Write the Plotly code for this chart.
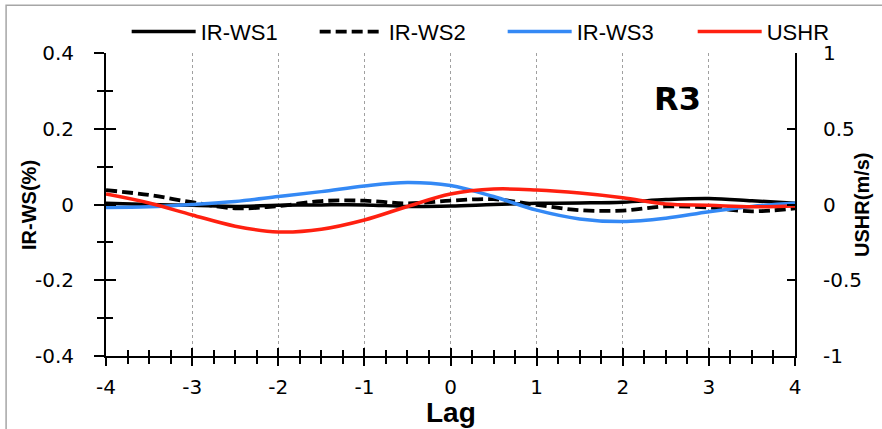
import plotly.graph_objects as go

# Lag axis values
lag = [-4, -3.5, -3, -2.5, -2, -1.5, -1, -0.5, 0, 0.5, 1, 1.5, 2, 2.5, 3, 3.5, 4]

# Cross-correlation series (left axis, %)
ir_ws1 = [0.003, 0.000, -0.002, -0.005, -0.002, -0.001, -0.001, -0.005, -0.004, 0.000,
          0.003, 0.004, 0.006, 0.013, 0.016, 0.010, 0.003]
ir_ws2 = [0.038, 0.025, 0.006, -0.010, -0.004, 0.009, 0.010, 0.003, 0.010, 0.014,
          -0.001, -0.015, -0.016, -0.005, -0.008, -0.018, -0.010]
ir_ws3 = [-0.008, -0.006, 0.000, 0.008, 0.021, 0.034, 0.049, 0.058, 0.050, 0.021,
          -0.015, -0.038, -0.045, -0.036, -0.019, -0.005, 0.003]

# USHR series (right axis, m/s)
ushr = [0.069, 0.010, -0.069, -0.143, -0.181, -0.163, -0.102, -0.013, 0.069, 0.102,
        0.096, 0.076, 0.045, 0.003, -0.005, -0.015, -0.010]

x_ticks = [-4, -3, -2, -1, 0, 1, 2, 3, 4]
left_ticks = [-0.4, -0.2, 0, 0.2, 0.4]
left_labels = ["-0.4", "-0.2", "0", "0.2", "0.4"]
right_ticks = [-1, -0.5, 0, 0.5, 1]
right_labels = ["-1", "-0.5", "0", "0.5", "1"]

BLUE = "#3489F5"
RED = "#FF2010"
TICK_FONT = dict(family="DejaVu Sans", size=20, color="black")
LEGEND_FONT = dict(family="Liberation Sans", size=22, color="black")

fig = go.Figure()
fig.add_trace(go.Scatter(x=lag, y=ir_ws1, name="IR-WS1", mode="lines",
                         line=dict(color="black", width=3.5, shape="spline", smoothing=1.0)))
fig.add_trace(go.Scatter(x=lag, y=ir_ws2, name="IR-WS2", mode="lines",
                         line=dict(color="black", width=3.8, dash="11px,5px",
                                   shape="spline", smoothing=1.0)))
fig.add_trace(go.Scatter(x=lag, y=ir_ws3, name="IR-WS3", mode="lines",
                         line=dict(color=BLUE, width=3.5, shape="spline", smoothing=1.0)))
fig.add_trace(go.Scatter(x=lag, y=ushr, name="USHR", mode="lines", yaxis="y2",
                         legend="legend2",
                         line=dict(color=RED, width=3.5, shape="spline", smoothing=1.0)))

fig.update_layout(
    width=882, height=429,
    margin=dict(l=106, r=87, t=53, b=73, autoexpand=False),
    paper_bgcolor="white", plot_bgcolor="white",
    showlegend=True,
    legend=dict(orientation="h", x=0.03, y=1.07, xanchor="left", yanchor="middle",
                font=LEGEND_FONT, itemwidth=64, entrywidth=109,
                bgcolor="rgba(0,0,0,0)", traceorder="normal"),
    legend2=dict(orientation="h", x=0.8515, y=1.07, xanchor="left", yanchor="middle",
                 font=LEGEND_FONT, itemwidth=64, bgcolor="rgba(0,0,0,0)"),
    xaxis=dict(range=[-4, 4], tickvals=x_ticks, ticktext=[str(v) for v in x_ticks],
               ticks="outside", ticklen=8, tickwidth=2, tickcolor="black",
               minor=dict(dtick=0.25, ticks="outside", ticklen=6, tickwidth=1.5,
                          tickcolor="black", showgrid=False),
               showline=True, linecolor="black", linewidth=2,
               showgrid=True, gridcolor="#A0A0A0", gridwidth=1, griddash="dot",
               zeroline=False, tickfont=TICK_FONT, ticklabelstandoff=4),
    xaxis2=dict(range=[-4, 4], overlaying="x", side="bottom", anchor="y",
                tickvals=x_ticks, ticks="inside", ticklen=8, tickwidth=2, tickcolor="black",
                minor=dict(dtick=0.25, ticks="inside", ticklen=6, tickwidth=1.5,
                           tickcolor="black"),
                showticklabels=False, showline=False, showgrid=False, zeroline=False),
    yaxis=dict(range=[-0.4, 0.4], tickvals=left_ticks, ticktext=left_labels,
               ticks="outside", ticklen=10, tickwidth=2, tickcolor="black",
               minor=dict(dtick=0.1, ticks="outside", ticklen=7, tickwidth=1.5,
                          tickcolor="black", showgrid=False),
               showline=True, linecolor="black", linewidth=2,
               showgrid=False, zeroline=False, tickfont=TICK_FONT, ticklabelstandoff=16),
    yaxis3=dict(range=[-0.4, 0.4], overlaying="y", side="left", anchor="x",
                tickvals=left_ticks, ticks="inside", ticklen=10, tickwidth=2,
                tickcolor="black",
                minor=dict(dtick=0.1, ticks="inside", ticklen=7, tickwidth=1.5,
                           tickcolor="black"),
                showticklabels=False, showline=False, showgrid=False, zeroline=False),
    yaxis2=dict(range=[-1, 1], overlaying="y", side="right", anchor="x",
                tickvals=right_ticks, ticktext=right_labels,
                ticks="inside", ticklen=8, tickwidth=2, tickcolor="black",
                showline=True, linecolor="black", linewidth=2,
                showgrid=False, zeroline=False, tickfont=TICK_FONT, ticklabelstandoff=22),
)

# Dummy trace so the overlay axes are drawn
fig.add_trace(go.Scatter(x=[None], y=[None], xaxis="x2", yaxis="y3",
                         showlegend=False, hoverinfo="skip"))

# Axis titles and panel label
fig.add_annotation(text="<b>Lag</b>", x=0.5, y=-0.185, xref="paper", yref="paper",
                   xanchor="center", yanchor="middle", showarrow=False,
                   font=dict(family="Liberation Sans", size=28, color="black"))
fig.add_annotation(text="<b>IR-WS(%)</b>", x=-0.112, y=0.498, xref="paper", yref="paper",
                   xanchor="center", yanchor="middle", textangle=-90, showarrow=False,
                   font=dict(family="Liberation Sans", size=20, color="black"))
fig.add_annotation(text="<b>USHR(m/s)</b>", x=1.097, y=0.498, xref="paper", yref="paper",
                   xanchor="center", yanchor="middle", textangle=-90, showarrow=False,
                   font=dict(family="Liberation Sans", size=20, color="black"))
fig.add_annotation(text="<b>R3</b>", x=0.830, y=0.848, xref="paper", yref="paper",
                   xanchor="center", yanchor="middle", showarrow=False,
                   font=dict(family="DejaVu Sans", size=32, color="black"))

# Outer frame around the chart
fig.add_shape(type="rect", xref="paper", yref="paper",
              x0=-0.145, y0=-0.32, x1=1.2, y1=1.158,
              line=dict(color="#A6A6A6", width=1.5), layer="below")

fig.write_html("out.html")
